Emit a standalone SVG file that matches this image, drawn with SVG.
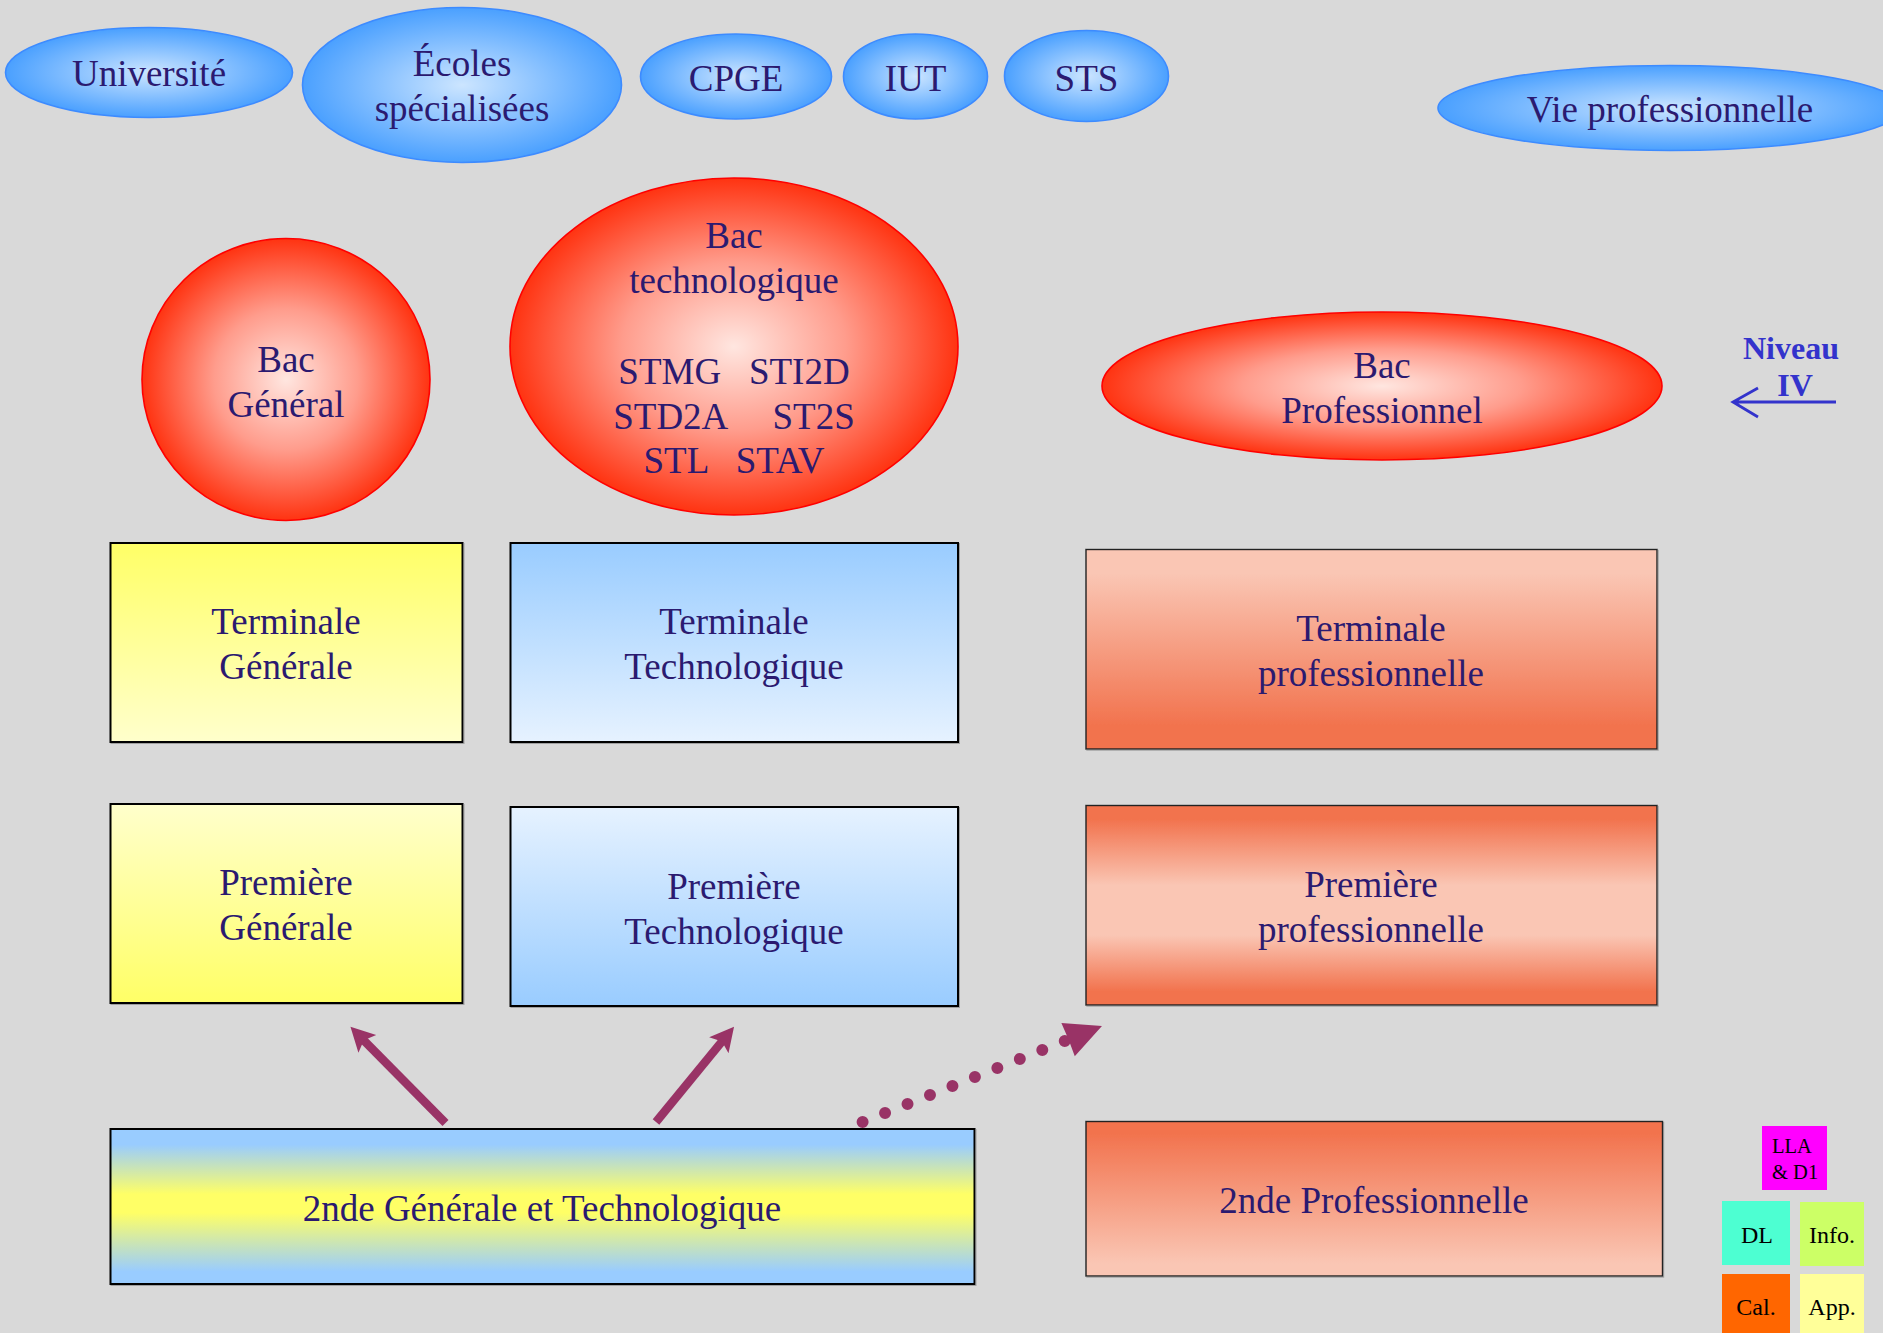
<svg xmlns="http://www.w3.org/2000/svg" width="1883" height="1333" viewBox="0 0 1883 1333">
<style>
text{font-family:"Liberation Serif","Times New Roman",serif;font-size:37px;fill:#2b1a70;text-anchor:middle}
.small{font-size:24px;fill:#000}
.lla{font-size:20.5px;fill:#000;text-anchor:start}
.niv{font-size:32px;font-weight:bold;fill:#3333cc}
.blue{fill:url(#gBlue);stroke:#3d8bff;stroke-width:1.6}
.red{fill:url(#gRed);stroke:#ff0000;stroke-width:1.6}
.box{stroke:#000;stroke-width:2;filter:url(#sh)}
.pro{stroke:#222;stroke-width:1.4;filter:url(#sh)}
.arrow{fill:none;stroke:#993366;stroke-width:8.5}
</style>
<defs>
<filter id="sh" x="-2%" y="-2%" width="104%" height="104%"><feDropShadow dx="1" dy="1" stdDeviation="0.200" flood-color="#a0a0a0"/></filter>
<radialGradient id="gBlue" cx="50%" cy="50%" r="50%"><stop offset="0" stop-color="#cce5ff"/><stop offset="1" stop-color="#4aa0ff"/></radialGradient>
<radialGradient id="gRed" cx="50%" cy="50%" r="50%"><stop offset="0" stop-color="#ffe6e0"/><stop offset="0.5" stop-color="#ff9c8c"/><stop offset="1" stop-color="#ff3311"/></radialGradient>
<linearGradient id="gYD" x1="0" y1="0" x2="0" y2="1"><stop offset="0" stop-color="#ffff66"/><stop offset="1" stop-color="#ffffcc"/></linearGradient>
<linearGradient id="gYU" x1="0" y1="1" x2="0" y2="0"><stop offset="0" stop-color="#ffff66"/><stop offset="1" stop-color="#ffffcc"/></linearGradient>
<linearGradient id="gBD" x1="0" y1="0" x2="0" y2="1"><stop offset="0" stop-color="#99ccff"/><stop offset="1" stop-color="#e6f2ff"/></linearGradient>
<linearGradient id="gBU" x1="0" y1="1" x2="0" y2="0"><stop offset="0" stop-color="#99ccff"/><stop offset="1" stop-color="#e6f2ff"/></linearGradient>
<linearGradient id="gMix" x1="0" y1="0" x2="0" y2="1"><stop offset="0.1" stop-color="#99ccff"/><stop offset="0.42" stop-color="#ffff66"/><stop offset="0.54" stop-color="#ffff66"/><stop offset="0.92" stop-color="#99ccff"/></linearGradient>
<linearGradient id="gTP" x1="0" y1="0" x2="0" y2="1"><stop offset="0.12" stop-color="#fac6b4"/><stop offset="0.88" stop-color="#f2734e"/></linearGradient>
<linearGradient id="gPP" x1="0" y1="0" x2="0" y2="1"><stop offset="0.07" stop-color="#f2734e"/><stop offset="0.4" stop-color="#fac6b4"/><stop offset="0.65" stop-color="#fac6b4"/><stop offset="0.93" stop-color="#f2734e"/></linearGradient>
<linearGradient id="gSP" x1="0" y1="0" x2="0" y2="1"><stop offset="0.08" stop-color="#f2734e"/><stop offset="0.92" stop-color="#fac6b4"/></linearGradient>
<marker id="head" markerUnits="userSpaceOnUse" markerWidth="30" markerHeight="30" refX="8" refY="12.500" orient="auto"><path d="M24 12.500 L0 0 L5 12.500 L0 25 Z" fill="#993366"/></marker>
<marker id="headBig" markerUnits="userSpaceOnUse" markerWidth="46" markerHeight="40" refX="0" refY="18" orient="auto"><path d="M39.500 18 L3 0 L3.500 18 L3 36 Z" fill="#993366"/></marker>
</defs>
<rect width="1883" height="1333" fill="#d9d9d9"/>
<g id="universite"><ellipse class="blue" cx="149" cy="72.500" rx="143.500" ry="45"/><text x="149" y="86">Université</text></g>
<g id="ecoles"><ellipse class="blue" cx="462" cy="85" rx="159.500" ry="77.500"/><text x="462" y="76">Écoles</text><text x="462" y="121">spécialisées</text></g>
<g id="cpge"><ellipse class="blue" cx="736" cy="76.500" rx="95.500" ry="42.500"/><text x="736" y="90.500">CPGE</text></g>
<g id="iut"><ellipse class="blue" cx="915.500" cy="76.500" rx="72" ry="42.500"/><text x="915.500" y="90.500">IUT</text></g>
<g id="sts"><ellipse class="blue" cx="1086.500" cy="76" rx="82" ry="45.500"/><text x="1086.500" y="90.500">STS</text></g>
<g id="vie"><ellipse class="blue" cx="1670" cy="108" rx="232" ry="42.500"/><text x="1670" y="122">Vie professionnelle</text></g>
<g id="bac-general"><ellipse class="red" cx="286" cy="379.500" rx="144" ry="141"/><text x="286" y="371.500">Bac</text><text x="286" y="416.500">Général</text></g>
<g id="bac-techno"><ellipse class="red" cx="734" cy="346.500" rx="224" ry="168.500"/><text x="734" y="248">Bac</text><text x="734" y="293">technologique</text><text x="734" y="383.500" xml:space="preserve">STMG   STI2D</text><text x="734" y="428.500" xml:space="preserve">STD2A     ST2S</text><text x="734" y="472.500" xml:space="preserve">STL   STAV</text></g>
<g id="bac-pro"><ellipse class="red" cx="1382" cy="386" rx="280" ry="74"/><text x="1382" y="377.500">Bac</text><text x="1382" y="422.500">Professionnel</text></g>
<g id="niveau"><text class="niv" x="1791" y="358.500">Niveau</text><text class="niv" x="1795" y="396">IV</text></g>
<g id="term-gen"><rect class="box" x="110.500" y="543" width="352" height="199" fill="url(#gYD)"/><text x="286" y="633.500">Terminale</text><text x="286" y="678.500">Générale</text></g>
<g id="term-tech"><rect class="box" x="510.500" y="543" width="447.500" height="199" fill="url(#gBD)"/><text x="734" y="633.500">Terminale</text><text x="734" y="678.500">Technologique</text></g>
<g id="term-pro"><rect class="pro" x="1086" y="549.500" width="571" height="199.500" fill="url(#gTP)"/><text x="1371" y="640.500">Terminale</text><text x="1371" y="685.500">professionnelle</text></g>
<g id="prem-gen"><rect class="box" x="110.500" y="804" width="352" height="199" fill="url(#gYU)"/><text x="286" y="894.500">Première</text><text x="286" y="939.500">Générale</text></g>
<g id="prem-tech"><rect class="box" x="510.500" y="807" width="447.500" height="199" fill="url(#gBU)"/><text x="734" y="898.500">Première</text><text x="734" y="943.500">Technologique</text></g>
<g id="prem-pro"><rect class="pro" x="1086" y="805.500" width="571" height="199.500" fill="url(#gPP)"/><text x="1371" y="896.500">Première</text><text x="1371" y="941.500">professionnelle</text></g>
<g id="seconde-gt"><rect class="box" x="110.500" y="1129" width="864" height="155" fill="url(#gMix)"/><text x="542" y="1220.500">2nde Générale et Technologique</text></g>
<g id="seconde-pro"><rect class="pro" x="1086" y="1121.500" width="576.500" height="154.500" fill="url(#gSP)"/><text x="1374" y="1212.500">2nde Professionnelle</text></g>
<g id="lla"><rect x="1762" y="1126" width="65" height="64" fill="#ff00ff"/><text class="lla" x="1772" y="1153">LLA</text><text class="lla" x="1772" y="1179">&amp; D1</text></g>
<g id="dl"><rect x="1722" y="1201" width="68" height="64" fill="#4dffd2"/><text class="small" x="1757" y="1243">DL</text></g>
<g id="info"><rect x="1800" y="1202" width="64" height="64" fill="#ccff66"/><text class="small" x="1832" y="1243">Info.</text></g>
<g id="cal"><rect x="1722" y="1274" width="68" height="59" fill="#ff6600"/><text class="small" x="1756" y="1315">Cal.</text></g>
<g id="app"><rect x="1800" y="1274" width="64" height="59" fill="#ffff99"/><text class="small" x="1832" y="1315">App.</text></g>
<g id="connectors">
<path class="arrow" marker-end="url(#head)" d="M445.500 1123 L361.700 1038.200"/>
<path class="arrow" marker-end="url(#head)" d="M656 1122 L723.900 1039.100"/>
<path class="arrow" marker-end="url(#headBig)" stroke-linecap="round" stroke-dasharray="0 24.200" style="stroke-width:12" d="M862.600 1122 L1065.300 1040.700"/>
<path d="M1836 402 H1733 M1758 388 L1733 402 L1758 417" fill="none" stroke="#3333cc" stroke-width="2.800"/>
</g>
</svg>
